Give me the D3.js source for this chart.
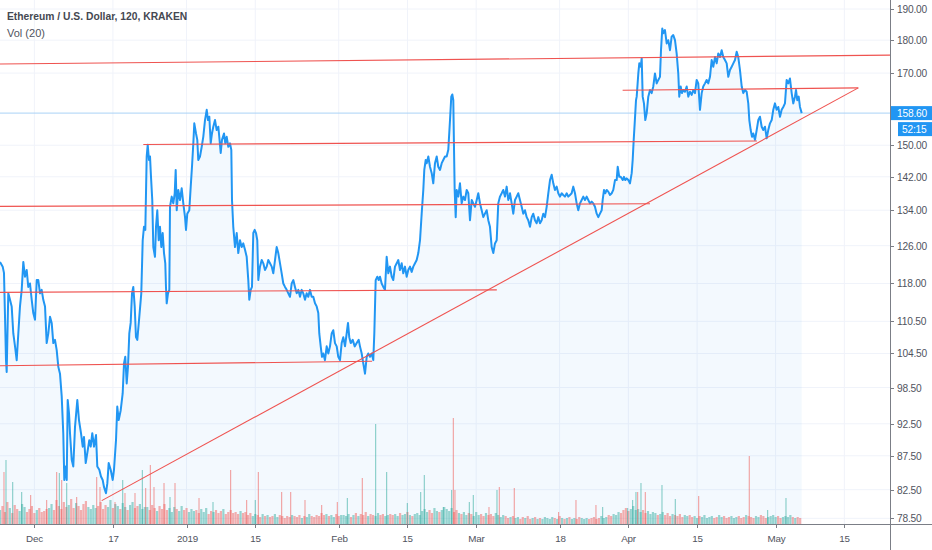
<!DOCTYPE html>
<html><head><meta charset="utf-8">
<script src="https://cdn.jsdelivr.net/npm/d3@7"></script>
<style>
body{margin:0;background:#fff}
svg{display:block}
text{font-family:"Liberation Sans",Arial,sans-serif}
</style>
</head><body>
<svg id="c" width="932" height="550"></svg>
<script>
// ---------------- DATA ----------------
const seriesTitle = "Ethereum / U.S. Dollar, 120, KRAKEN";
const volTitle = "Vol (20)";
const startDate = "2018-11-24";          // day 0 of the series
const lastPrice = 158.60;
const countdown = "52:15";

// [day offset from startDate, ETH/USD price]
const priceData = [
[0.00,122.5],[0.55,121.5],[0.81,120.2],[1.02,111.4],[1.22,103.3],[1.36,101.2],[1.69,116.0],[2.04,114.7],[2.38,113.4],[2.71,108.2],[3.06,105.8],[3.40,103.3],[3.73,108.2],[4.07,113.4],[4.42,116.7],[4.75,122.5],[5.09,119.4],[5.44,120.8],[5.76,117.3],[6.11,118.0],[6.46,114.7],[6.78,112.1],[7.13,110.8],[7.48,118.7],[7.80,118.7],[8.15,116.0],[8.49,116.7],[8.82,114.7],[9.17,113.4],[9.51,106.4],[9.84,108.2],[10.19,111.4],[10.53,110.2],[10.86,106.4],[11.20,107.0],[11.55,105.1],[11.88,102.1],[12.22,100.9],[12.57,97.0],[12.89,91.0],[13.10,83.9],[13.30,85.9],[13.59,83.9],[13.79,96.4],[14.06,94.2],[14.26,91.0],[14.61,86.9],[14.93,85.9],[15.28,92.0],[15.75,96.4],[16.09,93.1],[16.50,91.0],[16.85,88.9],[17.11,90.4],[17.46,86.4],[17.78,87.9],[18.19,89.9],[18.48,88.9],[18.80,91.0],[19.15,88.9],[19.56,90.7],[19.82,85.9],[20.23,85.4],[20.57,84.4],[20.92,83.9],[21.18,82.9],[21.59,82.0],[21.86,83.4],[22.14,86.4],[22.55,85.4],[22.96,83.9],[23.22,85.4],[23.63,89.9],[23.89,95.3],[24.18,93.1],[24.59,94.7],[24.99,97.5],[25.26,102.7],[25.52,103.9],[25.81,99.2],[26.07,102.1],[26.34,108.2],[26.62,110.2],[26.89,116.0],[27.15,117.3],[27.44,113.4],[27.70,107.5],[27.97,107.0],[28.38,111.4],[28.78,116.0],[29.07,127.2],[29.33,130.2],[29.60,129.5],[29.88,147.1],[30.09,150.1],[30.35,146.2],
[30.56,147.1],[30.76,142.0],[31.02,136.4],[31.23,125.7],[31.57,123.6],[31.78,130.2],[32.04,134.0],[32.33,127.2],[32.59,130.2],[32.86,125.7],[33.14,128.8],[33.41,124.4],[33.67,122.2],[33.81,117.3],[33.96,114.0],[34.22,116.0],[34.49,116.7],[34.63,134.8],[34.98,137.2],[35.30,135.6],[35.59,138.0],[35.79,143.7],[36.00,134.0],[36.32,138.8],[36.67,136.4],[37.01,139.2],[37.34,135.6],[37.69,132.4],[37.89,129.5],[38.15,133.2],[38.56,134.0],[38.85,139.6],[39.11,144.5],[39.38,150.5],[39.58,155.8],[39.93,153.1],[40.19,151.4],[40.39,146.2],[40.74,147.1],[41.09,149.6],[41.41,152.2],[41.76,156.7],[42.11,159.5],[42.37,156.7],[42.64,157.6],[42.92,150.5],[43.18,153.1],[43.45,154.9],[43.80,156.7],[44.14,154.0],[44.47,154.9],[44.67,152.2],[44.96,148.0],[45.22,151.4],[45.63,153.1],[45.90,150.5],[46.18,152.2],[46.51,149.6],[46.85,150.5],[47.12,148.8],[47.26,136.4],[47.52,130.2],[47.87,125.7],[48.22,128.8],[48.54,124.4],[48.89,127.2],[49.23,125.7],[49.56,126.5],[49.91,125.1],[50.25,123.6],[50.58,118.7],[50.78,114.7],[51.07,116.7],[51.33,117.3],[51.60,128.8],[51.88,129.5],[52.15,128.8],[52.41,127.2],[52.62,118.7],[52.96,121.5],[53.31,122.9],[53.64,122.2],[53.98,120.8],[54.33,121.5],[54.65,122.9],[55.00,122.2],[55.35,121.5],[55.67,120.1],[56.02,122.9],[56.36,125.7],[56.69,124.4],[57.04,122.2],[57.38,120.1],[57.71,118.0],[58.06,117.3],[58.40,116.7],[58.73,116.0],
[59.07,115.3],[59.42,118.0],[59.75,118.7],[60.09,117.3],[60.44,116.0],[60.77,116.7],[61.11,115.3],[61.46,116.7],[61.78,116.0],[62.13,114.7],[62.47,116.0],[62.80,115.3],[63.15,116.7],[63.49,115.3],[63.82,115.3],[64.17,114.0],[64.51,113.4],[64.84,112.1],[65.04,108.2],[65.33,105.8],[65.59,103.9],[65.86,104.5],[66.20,103.3],[66.55,105.8],[66.88,104.5],[67.22,105.8],[67.57,108.2],[67.89,108.8],[68.24,106.4],[68.59,105.8],[68.91,103.9],[69.26,103.3],[69.60,106.4],[69.93,107.5],[70.28,105.8],[70.62,108.2],[70.89,110.2],[71.15,107.5],[71.44,106.4],[71.85,107.0],[72.26,105.8],[72.66,106.4],[73.07,107.0],[73.33,105.8],[73.68,104.5],[74.01,102.7],[74.35,100.9],[74.70,103.9],[75.02,104.5],[75.37,103.9],[75.72,104.5],[76.04,103.3],[76.25,108.2],[76.53,118.7],[76.86,119.4],[77.14,118.7],[77.41,119.4],[77.75,118.0],[78.08,117.3],[78.42,116.7],[78.77,123.6],[79.10,120.1],[79.44,121.5],[79.79,119.4],[80.11,118.7],[80.46,121.5],[80.81,122.2],[81.13,122.9],[81.48,120.8],[81.83,122.2],[82.15,120.1],[82.50,121.5],[82.84,119.4],[83.17,120.8],[83.52,121.5],[83.86,120.4],[84.19,121.5],[84.54,122.2],[84.88,122.9],[85.21,124.4],[85.56,127.2],[85.90,133.2],[86.23,138.8],[86.43,143.7],[86.72,146.2],[86.92,145.4],[87.25,147.1],[87.59,144.5],[87.94,142.9],[88.26,140.4],[88.61,145.4],[88.96,147.1],[89.28,144.5],[89.63,143.7],[89.98,145.4],[90.30,146.2],[90.65,147.1],[90.99,147.1],[91.32,148.8],[91.67,156.7],[91.93,163.2],[92.14,163.8],[92.34,162.2],[92.48,149.6],[92.62,138.8],[92.83,132.4],
[93.03,138.8],[93.36,137.2],[93.70,140.4],[94.05,135.6],[94.38,137.2],[94.72,136.4],[95.07,138.8],[95.40,138.0],[95.74,131.7],[96.09,136.4],[96.41,135.6],[96.76,134.8],[97.11,136.4],[97.43,138.0],[97.78,135.6],[98.12,134.0],[98.45,132.4],[98.79,133.2],[99.14,134.0],[99.47,131.7],[99.81,130.2],[100.16,125.7],[100.49,124.4],[100.83,126.5],[101.18,127.2],[101.50,135.6],[101.85,137.2],[102.20,138.0],[102.52,138.8],[102.87,137.2],[103.21,139.6],[103.54,136.4],[103.89,138.0],[104.23,135.6],[104.56,133.2],[104.91,136.4],[105.25,137.2],[105.58,138.0],[105.92,136.4],[106.27,134.8],[106.60,133.2],[106.94,134.0],[107.29,132.4],[107.61,131.7],[107.96,130.2],[108.31,132.4],[108.63,133.2],[108.98,131.7],[109.32,131.0],[109.65,132.4],[110.00,131.0],[110.34,131.7],[110.67,133.2],[111.02,132.4],[111.36,134.8],[111.69,138.0],[112.04,141.2],[112.38,142.5],[112.71,140.4],[113.05,138.8],[113.40,139.6],[113.73,138.0],[114.07,137.2],[114.42,138.0],[114.74,137.6],[115.09,137.2],[115.44,138.0],[115.76,137.2],[116.11,137.6],[116.45,138.0],[116.78,139.6],[117.13,138.0],[117.47,135.6],[117.80,134.0],[118.15,135.6],[118.49,136.4],[118.82,137.2],[119.16,136.4],[119.51,137.2],[119.84,136.4],[120.18,135.6],[120.53,136.0],[120.86,135.6],[121.20,134.8],[121.55,133.2],[121.88,132.4],[122.22,133.2],[122.57,134.0],[122.77,136.4],[123.04,138.8],[123.30,138.0],[123.59,138.8],[123.91,138.4],[124.26,137.6],[124.61,138.0],[124.93,138.8],[125.28,141.2],[125.62,141.2],[125.83,144.5],[126.15,142.0],[126.44,142.0],[126.85,141.2],[127.11,142.0],[127.38,141.2],[127.66,141.6],[127.99,141.2],[128.33,140.4],[128.68,142.9],[128.88,146.2],[129.09,151.4],[129.29,155.8],[129.56,162.2],
[129.70,163.2],[130.03,169.9],[130.23,172.9],[130.51,171.9],[130.72,174.4],[130.92,163.2],[131.18,161.3],[131.45,156.7],[131.74,158.6],[132.06,163.2],[132.41,165.1],[132.75,164.2],[133.08,166.1],[133.42,169.9],[133.77,167.0],[134.10,168.0],[134.44,168.9],[134.65,176.9],[134.91,183.7],[135.12,182.2],[135.46,183.2],[135.81,179.0],[136.13,180.0],[136.48,176.9],[136.82,181.1],[137.15,181.6],[137.50,180.0],[137.84,175.9],[138.17,169.9],[138.37,163.2],[138.66,166.1],[138.92,164.2],[139.19,165.1],[139.53,164.6],[139.88,166.1],[140.21,163.2],[140.55,164.6],[140.90,163.7],[141.23,165.1],[141.57,164.2],[141.92,168.0],[142.24,167.0],[142.59,159.5],[142.94,164.2],[143.26,166.1],[143.61,167.0],[143.95,168.0],[144.28,167.0],[144.63,168.9],[144.97,173.9],[145.30,171.9],[145.65,174.8],[145.99,172.9],[146.32,175.9],[146.67,174.8],[147.01,176.9],[147.34,174.8],[147.68,173.9],[148.03,172.9],[148.36,168.9],[148.70,170.9],[149.05,171.9],[149.38,172.9],[149.72,173.9],[150.07,176.4],[150.39,174.8],[150.74,170.9],[151.09,166.1],[151.41,164.2],[151.76,165.1],[152.10,164.6],[152.43,161.3],[152.64,156.7],[152.92,154.0],[153.19,152.2],[153.45,153.1],[153.80,151.4],[154.14,154.0],[154.47,156.7],[154.81,157.6],[155.16,154.9],[155.49,154.0],[155.83,154.9],[156.18,151.8],[156.50,154.0],[156.85,155.8],[157.20,156.7],[157.52,159.5],[157.87,161.3],[158.21,159.5],[158.54,160.3],[158.89,157.6],[159.23,159.5],[159.56,160.3],[159.90,161.3],[160.25,168.0],[160.58,167.0],[160.92,168.4],[161.27,164.2],[161.59,161.3],[161.94,163.2],[162.15,165.1],[162.41,162.2],[162.70,163.2],[162.96,160.3],[163.31,158.6]
];

// hand-drawn lines: [[day, price], [day, price]]
const trendLines = [
  [[0,172.7],[181.3,175.4]],
  [[126.84,165.0],[174.84,165.7]],
  [[20.72,80.95],[174.84,165.7]],
  [[29.19,150.2],[154.2,151.1]],
  [[0,134.9],[132.4,135.5]],
  [[0,116.2],[101.2,116.7]],
  [[0,102.3],[75.8,103.1]]
];

const priceTicks = [190,180,170,150,142,134,126,118,110.5,104.5,98.5,92.5,87.5,82.5,78.5];
const dateTicks = [["2018-12-01","Dec"],["2018-12-17","17"],["2019-01-01","2019"],["2019-01-15","15"],
  ["2019-02-01","Feb"],["2019-02-15","15"],["2019-03-01","Mar"],["2019-03-18","18"],
  ["2019-04-01","Apr"],["2019-04-15","15"],["2019-05-01","May"],["2019-05-15","15"]];

// background volume, one value per 12 hours from startDate (thousand ETH)
const volumeBase = [
14,18,12,22,16,11,19,15,13,20,17,12,15,18,11,14,16,12,13,15,
16,20,14,24,18,15,22,17,19,25,16,21,18,14,20,23,17,15,19,16,
18,22,15,19,17,24,16,20,18,15,21,17,14,19,22,16,18,20,15,17,
17,14,19,16,13,18,15,20,14,16,12,17,15,13,18,14,16,12,15,13,
14,11,15,12,16,10,13,12,14,11,13,15,10,12,14,11,12,10,13,11,
12,9,11,8,10,9,7,10,8,9,7,8,10,7,9,8,6,8,7,9,
8,7,9,6,8,7,10,8,7,9,8,11,9,10,8,9,7,10,8,9,
9,8,10,7,9,11,8,10,9,12,8,10,9,8,11,9,10,8,9,10,
9,10,8,11,9,10,12,9,8,10,11,9,13,15,12,14,11,16,13,12,
14,17,15,13,16,12,14,11,10,12,9,11,10,8,12,9,10,8,11,9,
10,8,11,9,7,9,8,6,7,8,6,7,5,7,6,8,5,6,7,5,
6,5,7,6,5,7,6,5,8,6,5,6,7,5,6,5,7,6,5,6,
5,6,7,5,6,8,6,7,9,8,10,9,12,11,14,16,13,15,18,14,
15,12,14,11,13,10,12,11,9,10,12,9,11,8,10,9,8,10,7,9,
8,9,7,8,6,8,7,9,6,7,8,6,7,9,7,8,6,7,8,6,
7,8,6,7,9,8,7,6,8,7,9,8,6,7,8,9,7,8,6,7,
8,7,9,7,6,7,6
];
// notable volume bars: [day, volume, 1 = up / 0 = down]
const volumeSpikes = [
[0.81,52,0],[1.22,64,1],[2.59,42,1],[4.42,32,1],[6.25,29,0],[9.51,24,0],[11.55,52,0],[12.08,51,1],[12.57,44,0],[13.59,41,1],
[15.62,27,0],[19.70,47,0],[20.37,37,0],[23.43,22,0],[25.00,44,1],[25.46,31,0],[27.50,31,0],[28.99,54,1],[29.68,36,0],[30.62,59,0],
[31.37,37,0],[33.41,41,0],[34.63,27,1],[35.65,41,0],[40.54,26,0],[43.39,22,1],[46.99,54,0],[50.25,24,0],[52.00,24,1],[52.62,52,0],
[57.38,32,0],[59.22,32,0],[62.13,24,0],[65.53,19,0],[68.71,22,0],[70.75,26,1],[73.80,46,0],[76.53,100,1],[78.77,52,1],[82.97,21,1],
[85.70,32,1],[86.43,49,1],[90.30,17,1],[92.01,34,1],[92.34,106,0],[92.68,34,0],[95.60,22,1],[96.41,29,1],[99.61,17,0],[101.24,34,1],
[101.71,37,0],[104.76,36,0],[113.80,12,0],[117.33,24,0],[121.40,19,0],[122.77,17,1],[127.86,16,1],[128.88,24,1],[129.55,32,1],[129.90,32,0],
[130.57,41,1],[131.45,32,0],[134.85,39,1],[137.56,25,1],[142.33,28,0],[152.63,68,0],[156.38,14,1],[160.11,26,1]
];

// ---------------- CHART ----------------
const W = 932, H = 550, PW = 890, PH = 524;
const DAY = 864e5;
const t0 = Date.parse(startDate + "T00:00:00Z");
const toDate = d => new Date(t0 + d * DAY);

const x = d3.scaleUtc().domain([toDate(0), toDate(181.3)]).range([0, PW]);
const y = d3.scaleLog().domain([77.73, 193.0]).range([PH, 0]);
const vy = d3.scaleLinear().domain([0, 120]).range([PH, PH - 120]);

const svg = d3.select("#c");
svg.append("rect").attr("width", W).attr("height", H).attr("fill", "#fff");
svg.append("defs").append("clipPath").attr("id", "pane")
  .append("rect").attr("width", PW).attr("height", PH);
const pane = svg.append("g").attr("clip-path", "url(#pane)");

// grid
pane.selectAll("line.hg").data(priceTicks).join("line")
  .attr("x1", 0).attr("x2", PW).attr("y1", d => y(d)).attr("y2", d => y(d))
  .attr("stroke", "#f0f3fa").attr("stroke-width", 1);
pane.selectAll("line.vg").data(dateTicks).join("line")
  .attr("x1", d => x(new Date(d[0] + "T00:00:00Z"))).attr("x2", d => x(new Date(d[0] + "T00:00:00Z")))
  .attr("y1", 0).attr("y2", PH).attr("stroke", "#f0f3fa").attr("stroke-width", 1);

// area under price
const area = d3.area().x(d => x(toDate(d[0]))).y0(PH).y1(d => y(d[1]));
pane.append("path").datum(priceData).attr("d", area).attr("fill", "rgba(33,150,243,0.055)");

// volume
const bis = d3.bisector(d => d[0]).left;
function priceAt(day) {
  const i = Math.max(1, Math.min(priceData.length - 1, bis(priceData, day)));
  const a = priceData[i - 1], b = priceData[i];
  const f = Math.max(0, Math.min(1, (day - a[0]) / (b[0] - a[0])));
  return a[1] + (b[1] - a[1]) * f;
}
const UP = "rgba(38,166,154,0.45)", DN = "rgba(239,83,80,0.45)";
const vb = volumeBase.map((v, i) => {
  const d = i * 0.5;
  return { d, v, up: priceAt(d) >= priceAt(Math.max(0, d - 0.5)) };
});
pane.selectAll("rect.vb").data(vb).join("rect")
  .attr("x", d => x(toDate(d.d)) - 1.1).attr("width", 2.2)
  .attr("y", d => vy(d.v)).attr("height", d => PH - vy(d.v))
  .attr("fill", d => d.up ? UP : DN);
pane.selectAll("rect.vs").data(volumeSpikes).join("rect")
  .attr("x", d => x(toDate(d[0])) - 0.5).attr("width", 1)
  .attr("y", d => vy(d[1])).attr("height", d => PH - vy(d[1]))
  .attr("fill", d => d[2] ? "rgba(38,166,154,0.6)" : "rgba(239,83,80,0.6)");

// current price line
pane.append("line").attr("x1", 0).attr("x2", PW).attr("y1", y(lastPrice)).attr("y2", y(lastPrice))
  .attr("stroke", "#a9d2f6").attr("stroke-width", 1);

// price line
const line = d3.line().x(d => x(toDate(d[0]))).y(d => y(d[1]));
pane.append("path").datum(priceData).attr("d", line)
  .attr("fill", "none").attr("stroke", "#2196f3").attr("stroke-width", 2)
  .attr("stroke-linejoin", "round");

// drawn lines
pane.selectAll("line.tl").data(trendLines).join("line")
  .attr("x1", d => x(toDate(d[0][0]))).attr("y1", d => y(d[0][1]))
  .attr("x2", d => x(toDate(d[1][0]))).attr("y2", d => y(d[1][1]))
  .attr("stroke", "#ef5350").attr("stroke-width", 1.1);

// axes
const axisColor = "#7b7e86", labelColor = "#50535e";
svg.append("line").attr("x1", PW + 0.5).attr("x2", PW + 0.5).attr("y1", 0).attr("y2", H)
  .attr("stroke", axisColor);
svg.append("line").attr("x1", 0).attr("x2", W).attr("y1", PH + 0.5).attr("y2", PH + 0.5)
  .attr("stroke", axisColor);

const yt = svg.append("g");
priceTicks.forEach(p => {
  const yy = Math.round(y(p)) + 0.5;
  yt.append("line").attr("x1", PW).attr("x2", PW + 4).attr("y1", yy).attr("y2", yy).attr("stroke", axisColor);
  yt.append("text").attr("x", 897).attr("y", yy + 3.6).attr("font-size", 10.2)
    .attr("letter-spacing", -0.2).attr("fill", labelColor).text(d3.format(".2f")(p));
});
const xt = svg.append("g");
dateTicks.forEach(([ds, lab]) => {
  const xx = Math.round(x(new Date(ds + "T00:00:00Z"))) + 0.5;
  xt.append("line").attr("x1", xx).attr("x2", xx).attr("y1", PH).attr("y2", PH + 4).attr("stroke", axisColor);
  xt.append("text").attr("x", xx).attr("y", 541.5).attr("text-anchor", "middle").attr("font-size", 9.8)
    .attr("letter-spacing", -0.2).attr("fill", labelColor).text(lab);
});

// last price labels
const ly = y(lastPrice);
svg.append("rect").attr("x", PW + 1).attr("y", ly - 7).attr("width", W - PW - 1).attr("height", 14).attr("fill", "#2196f3");
svg.append("text").attr("x", 897).attr("y", ly + 3.6).attr("font-size", 10.2).attr("letter-spacing", -0.2)
  .attr("fill", "#fff").text(d3.format(".2f")(lastPrice));
svg.append("rect").attr("x", 898).attr("y", ly + 9).attr("width", W - 898).attr("height", 14).attr("fill", "#2196f3");
svg.append("text").attr("x", 902).attr("y", ly + 19.6).attr("font-size", 10.2).attr("letter-spacing", -0.2)
  .attr("fill", "#fff").text(countdown);

// legend
svg.append("text").attr("x", 7).attr("y", 20).attr("font-size", 10.3).attr("font-weight", 700)
  .attr("fill", "#454851").text(seriesTitle);
svg.append("text").attr("x", 7).attr("y", 37).attr("font-size", 11)
  .attr("fill", "#50535e").text(volTitle);
</script>
</body></html>
